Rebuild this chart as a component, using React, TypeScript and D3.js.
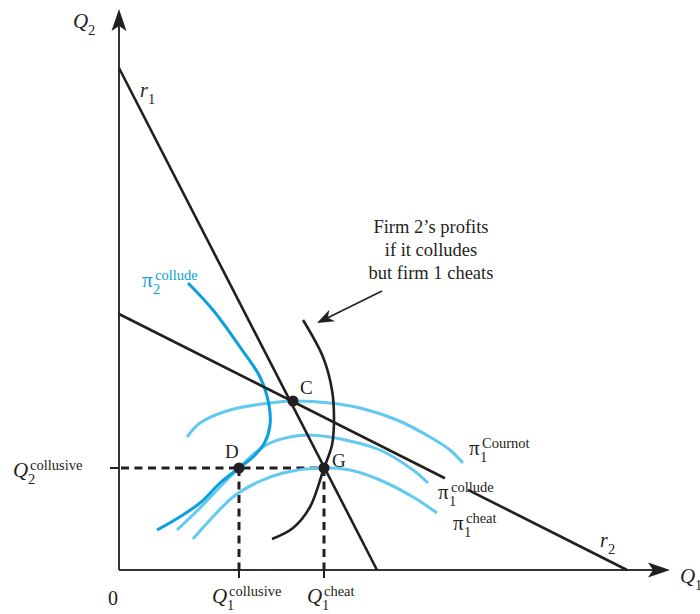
import React from "react";
import * as d3 from "d3";

type P = [number, number];

// Reaction functions (data units)
const r1Line: P[] = [[0, 502], [258, 0]];
const r2Line: P[] = [[0, 256], [508, 0]];
const r2Gap: number[] = [326, 349];

// Equilibrium points
const pointNames: string[] = ["C", "D", "G"];
const pointX: number[] = [174, 120, 205];
const pointY: number[] = [169, 102, 102];

// Iso-profit curves
const pi2Collude: P[] = [[69, 287], [94, 260], [121, 223], [141, 193], [150, 165], [151, 145], [146, 128], [134, 113], [120, 102], [101, 87], [81, 67], [59, 52], [38, 40]];
const pi1Cournot: P[] = [[68, 133], [81, 147], [111, 160], [151, 167], [174, 169], [211, 167], [241, 162], [278, 150], [311, 133], [331, 120], [344, 107]];
const pi1Collude: P[] = [[58, 40], [81, 62], [101, 83], [121, 103], [136, 117], [151, 127], [171, 133], [188, 135], [211, 133], [231, 129], [261, 120], [294, 100], [309, 87]];
const pi1Cheat: P[] = [[74, 31], [91, 50], [114, 73], [139, 88], [164, 97], [198, 102], [231, 100], [261, 90], [294, 73], [318, 57]];
const firm2Cheated: P[] = [[184, 250], [204, 213], [213, 180], [215, 150], [213, 125], [205, 102], [191, 63], [174, 42], [153, 31]];

// Annotation arrow
const arrowFrom: P = [263, 279];
const arrowTo: P = [198, 247];
const noteLines: string[] = ["Firm 2\u2019s profits", "if it colludes", "but firm 1 cheats"];

const DARK_BLUE = "#0aa0de";
const LIGHT_BLUE = "#62c9f0";
const INK = "#231f20";
const FONT = "'Liberation Serif', 'Times New Roman', serif";

export default function App() {
  const x = d3.scaleLinear().domain([0, 560]).range([119, 679]);
  const y = d3.scaleLinear().domain([0, 560]).range([570, 10]);
  const smooth = d3
    .line<P>()
    .x((d) => x(d[0]))
    .y((d) => y(d[1]))
    .curve(d3.curveCatmullRom.alpha(0.5));
  const straight = d3
    .line<P>()
    .x((d) => x(d[0]))
    .y((d) => y(d[1]));

  const r2At = (xv: number): P => {
    const [a, b] = r2Line;
    const t = (xv - a[0]) / (b[0] - a[0]);
    return [xv, a[1] + t * (b[1] - a[1])];
  };
  const r2SegA: P[] = [r2Line[0], r2At(r2Gap[0])];
  const r2SegB: P[] = [r2At(r2Gap[1]), r2Line[1]];

  const D = { x: pointX[1], y: pointY[1] };
  const G = { x: pointX[2], y: pointY[2] };

  // arrow geometry
  const ax1 = x(arrowFrom[0]), ay1 = y(arrowFrom[1]);
  const ax2 = x(arrowTo[0]), ay2 = y(arrowTo[1]);
  const ang = Math.atan2(ay2 - ay1, ax2 - ax1);
  const headLen = 17, headW = 6.5;
  const bx = ax2 - headLen * Math.cos(ang), by = ay2 - headLen * Math.sin(ang);
  const nx = -Math.sin(ang), ny = Math.cos(ang);
  const notch = 5;
  const head = `M${ax2},${ay2} L${bx + nx * headW},${by + ny * headW} L${ax2 - (headLen - notch) * Math.cos(ang)},${ay2 - (headLen - notch) * Math.sin(ang)} L${bx - nx * headW},${by - ny * headW} Z`;

  const x0 = x(0), y0 = y(0);
  const yTop = y(561), xRight = x(551);

  const sym = (
    key: string,
    px: number,
    base: number,
    main: string,
    sub: string,
    sup: string | null,
    color: string,
    italic: boolean,
    mainW: number,
    mainSize = 21
  ) => (
    <g key={key} fill={color} fontFamily={FONT}>
      <text x={px} y={base} fontSize={mainSize} fontStyle={italic ? "italic" : "normal"}>
        {main}
      </text>
      <text x={px + mainW} y={base + 7} fontSize={14.5}>
        {sub}
      </text>
      {sup && (
        <text x={px + mainW + 2} y={base - 7} fontSize={14.5}>
          {sup}
        </text>
      )}
    </g>
  );

  return (
    <svg
      width={700}
      height={614}
      style={{ position: "absolute", left: 0, top: 0, background: "#fff" }}
    >
      {/* axes */}
      <line x1={x0} y1={y0} x2={x0} y2={yTop + 10} stroke="#333" strokeWidth={2} />
      <line x1={x0} y1={y0} x2={xRight - 10} y2={y0} stroke="#333" strokeWidth={2} />
      <path d={`M${x0},${yTop} L${x0 + 7.5},${yTop + 22} L${x0},${yTop + 17} L${x0 - 7.5},${yTop + 22} Z`} fill={INK} />
      <path d={`M${xRight},${y0} L${xRight - 22},${y0 - 7.5} L${xRight - 17},${y0} L${xRight - 22},${y0 + 7.5} Z`} fill={INK} />

      {/* dashed guides */}
      <line x1={x0 - 9} y1={y(D.y)} x2={x0} y2={y(D.y)} stroke={INK} strokeWidth={2} />
      <line x1={x(D.x)} y1={y0} x2={x(D.x)} y2={y0 + 8} stroke={INK} strokeWidth={2} />
      <line x1={x(G.x)} y1={y0} x2={x(G.x)} y2={y0 + 8} stroke={INK} strokeWidth={2} />
      <g stroke={INK} strokeWidth={3} strokeDasharray="8,5.5" fill="none">
        <line x1={x0 + 2} y1={y(G.y)} x2={x(G.x)} y2={y(G.y)} />
        <line x1={x(D.x)} y1={y(D.y)} x2={x(D.x)} y2={y0} />
        <line x1={x(G.x)} y1={y(G.y)} x2={x(G.x)} y2={y0} />
      </g>

      {/* iso-profit curves */}
      <g fill="none" strokeLinecap="butt">
        <path d={smooth(pi1Cournot) || ""} stroke={LIGHT_BLUE} strokeWidth={3} />
        <path d={smooth(pi1Collude) || ""} stroke={LIGHT_BLUE} strokeWidth={3} />
        <path d={smooth(pi1Cheat) || ""} stroke={LIGHT_BLUE} strokeWidth={3} />
        <path d={smooth(pi2Collude) || ""} stroke={DARK_BLUE} strokeWidth={3} />
        <path d={smooth(firm2Cheated) || ""} stroke={INK} strokeWidth={2.6} />
      </g>

      {/* reaction functions */}
      <g fill="none" stroke={INK} strokeWidth={2.6}>
        <path d={straight(r1Line) || ""} />
        <path d={straight(r2SegA) || ""} />
        <path d={straight(r2SegB) || ""} />
      </g>

      {/* points */}
      {pointNames.map((n, i) => (
        <circle key={n} cx={x(pointX[i])} cy={y(pointY[i])} r={5.5} fill={INK} />
      ))}
      <g fontFamily={FONT} fontSize={19} fill={INK}>
        <text x={x(pointX[0]) + 7} y={y(pointY[0]) - 7}>{pointNames[0]}</text>
        <text x={x(pointX[1]) - 14} y={y(pointY[1]) - 10}>{pointNames[1]}</text>
        <text x={x(pointX[2]) + 8} y={y(pointY[2]) - 1}>{pointNames[2]}</text>
      </g>

      {/* annotation */}
      <line x1={ax1} y1={ay1} x2={bx + (notch) * Math.cos(ang)} y2={by + (notch) * Math.sin(ang)} stroke={INK} strokeWidth={1.6} />
      <path d={head} fill={INK} />
      <g fontFamily={FONT} fontSize={18.5} fill={INK} textAnchor="middle">
        {noteLines.map((t, i) => (
          <text key={i} x={431} y={233 + i * 23}>{t}</text>
        ))}
      </g>

      {/* axis labels */}
      {sym("q2", 73, 28, "Q", "2", null, INK, true, 15)}
      {sym("q1", 680, 583, "Q", "1", null, INK, true, 15)}
      {sym("r1", 140, 97, "r", "1", null, INK, true, 8, 20)}
      {sym("r2", 600, 547, "r", "2", null, INK, true, 8, 20)}
      <text x={113} y={605} fontFamily={FONT} fontSize={20} textAnchor="middle" fill={INK}>0</text>
      {sym("q2c", 13, 477, "Q", "2", "collusive", INK, true, 15)}
      {sym("q1c", 212, 603, "Q", "1", "collusive", INK, true, 15)}
      {sym("q1h", 307, 603, "Q", "1", "cheat", INK, true, 15)}

      {/* curve labels */}
      {sym("p2c", 142, 287, "\u03c0", "2", "collude", DARK_BLUE, false, 11, 21)}
      {sym("p1n", 469, 455, "\u03c0", "1", "Cournot", INK, false, 11, 21)}
      {sym("p1c", 438, 499, "\u03c0", "1", "collude", INK, false, 11, 21)}
      {sym("p1h", 453, 530, "\u03c0", "1", "cheat", INK, false, 11, 21)}
    </svg>
  );
}
